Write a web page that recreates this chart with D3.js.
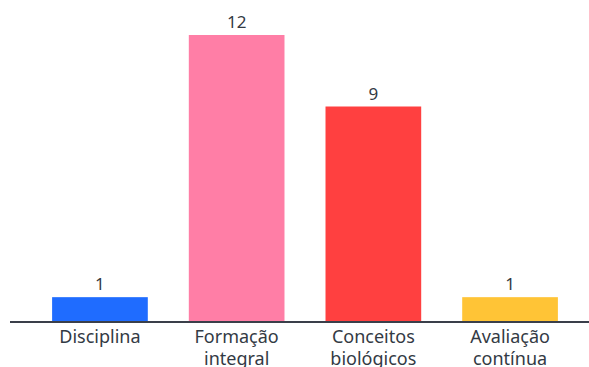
<!DOCTYPE html>
<html>
<head>
<meta charset="utf-8">
<script src="https://cdn.jsdelivr.net/npm/d3@7"></script>
<style>
  body { margin: 0; background: #fff; }
  svg { display: block; font-family: "Noto Sans", sans-serif; }
</style>
</head>
<body>
<svg id="chart"></svg>
<script>
const categories = [["Disciplina"], ["Formação", "integral"], ["Conceitos", "biológicos"], ["Avaliação", "contínua"]];
const values = [1, 12, 9, 1];
const colors = ["#1f6cff", "#ff7ea6", "#ff4040", "#ffc436"];

const width = 589, height = 367;
const baseY = 321;

const svg = d3.select('#chart')
  .attr('width', width)
  .attr('height', height);

const keys = categories.map(c => c.join(' '));

const x = d3.scaleBand()
  .domain(keys)
  .range([31.6, 578.4])
  .paddingInner(0.3)
  .paddingOuter(0.15);

const y = d3.scaleLinear()
  .domain([0, 12])
  .range([baseY, 35]);

svg.selectAll('rect.bar')
  .data(values)
  .join('rect')
  .attr('class', 'bar')
  .attr('x', (d, i) => x(keys[i]))
  .attr('y', d => y(d))
  .attr('width', x.bandwidth())
  .attr('height', d => baseY - y(d))
  .style('fill', (d, i) => colors[i]);

svg.selectAll('text.value')
  .data(values)
  .join('text')
  .attr('class', 'value')
  .attr('x', (d, i) => x(keys[i]) + x.bandwidth() / 2)
  .attr('y', d => y(d) - 7)
  .attr('text-anchor', 'middle')
  .style('font-size', '17px')
  .style('fill', '#333a44')
  .text(d => d);

// baseline
svg.append('line')
  .attr('x1', 10)
  .attr('x2', width)
  .attr('y1', baseY + 1)
  .attr('y2', baseY + 1)
  .style('stroke', '#3a3f4a')
  .style('stroke-width', 2);

svg.selectAll('text.cat')
  .data(categories)
  .join('text')
  .attr('class', 'cat')
  .attr('x', (d, i) => x(keys[i]) + x.bandwidth() / 2)
  .attr('y', 343)
  .attr('text-anchor', 'middle')
  .style('font-size', '18px')
  .style('fill', '#333a44')
  .selectAll('tspan')
  .data(d => d)
  .join('tspan')
  .attr('x', function() { return d3.select(this.parentNode).attr('x'); })
  .attr('dy', (d, i) => i === 0 ? 0 : 22)
  .text(d => d);
</script>
</body>
</html>
